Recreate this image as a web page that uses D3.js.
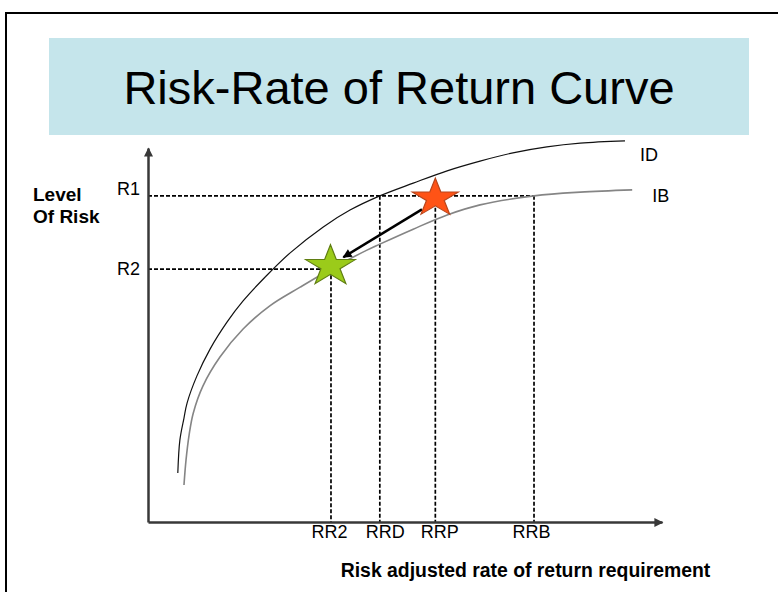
<!DOCTYPE html>
<html>
<head>
<meta charset="utf-8">
<script src="https://cdn.jsdelivr.net/npm/d3@7"></script>
<style>
    body { margin: 0; background: #ffffff; }
    text { font-family: Arial, "Liberation Sans", sans-serif; fill: #000; }
</style>
</head>
<body>
<script>
// 曲线 ID（黑色）上读取的点
const idX = [5.8, 6.2, 7.0, 7.6, 9.5, 12.1, 15.4, 18.5, 22.8, 27.6, 34.1, 39.3, 45.1, 51.6, 58.2, 64.6, 71.0, 77.6, 84.1, 92.8];
const idY = [13.1, 21.9, 27.8, 31.8, 39.0, 46.3, 53.5, 59.1, 65.5, 71.9, 78.9, 83.4, 87.2, 90.6, 93.9, 96.5, 98.7, 100.3, 101.3, 101.9];
// 曲线 IB（灰色）上读取的点
const ibX = [7.0, 7.4, 8.0, 8.8, 10.7, 14.0, 18.5, 23.7, 29.6, 35.8, 42.6, 45.1, 51.6, 58.2, 64.6, 75.1, 84.1, 94.2];
const ibY = [9.9, 16.6, 23.3, 29.1, 36.4, 44.1, 51.6, 57.8, 62.8, 67.8, 72.7, 74.3, 78.3, 82.1, 84.8, 87.2, 88.2, 88.8];
const curveNames = ['ID', 'IB'];

// 横轴参考线
const rateNames = ['RR2', 'RRD', 'RRP', 'RRB'];
const rateX = [35.6, 45.1, 55.9, 75.1];
const rateTopY = [67.6, 87.2, 87.2, 87.2];
// 纵轴参考线
const riskNames = ['R1', 'R2'];
const riskY = [87.2, 67.6];
const riskEndX = [75.1, 35.6];

// 星形标记与箭头
const starX = [55.9, 35.5];
const starY = [86.6, 68.4];
const arrowFrom = [53.3, 83.6];
const arrowTo = [38.0, 70.8];

const svgWidth = 778, svgHeight = 592;

const svg = d3.select('body').append('svg')
    .attr('width', svgWidth)
    .attr('height', svgHeight);

// 箭头标记
const defs = svg.append('defs');
[['axis-arrow', '#383838'], ['move-arrow', '#000']].forEach(([id, color]) => {
    defs.append('marker')
        .attr('id', id)
        .attr('viewBox', '0 0 10 10')
        .attr('refX', 9).attr('refY', 5)
        .attr('markerUnits', 'userSpaceOnUse')
        .attr('markerWidth', 11).attr('markerHeight', 9)
        .attr('orient', 'auto')
        .append('path').attr('d', 'M0,0L10,5L0,10z').attr('fill', color);
});

// 外框与标题栏
svg.append('rect')
    .attr('x', 6).attr('y', 13)
    .attr('width', 820).attr('height', 620)
    .attr('fill', 'none').attr('stroke', '#000').attr('stroke-width', 2);
svg.append('rect')
    .attr('x', 49).attr('y', 38)
    .attr('width', 700).attr('height', 97)
    .attr('fill', '#c5e5eb');
svg.append('text')
    .attr('x', 399).attr('y', 104)
    .attr('text-anchor', 'middle')
    .style('font-size', '47px')
    .text('Risk-Rate of Return Curve');

// 比例尺
const x = d3.scaleLinear().domain([0, 100]).range([148, 662]);
const y = d3.scaleLinear().domain([0, 100]).range([522, 148]);

// 虚线
const dash = svg.append('g')
    .attr('fill', 'none')
    .attr('stroke', '#000')
    .attr('stroke-width', 1.7)
    .attr('stroke-dasharray', '4,2');
dash.selectAll('line.v')
    .data(rateX)
    .join('line')
    .attr('class', 'v')
    .attr('x1', d => x(d)).attr('x2', d => x(d))
    .attr('y1', (d, i) => y(rateTopY[i])).attr('y2', y(0));
dash.selectAll('line.h')
    .data(riskY)
    .join('line')
    .attr('class', 'h')
    .attr('x1', x(0)).attr('x2', (d, i) => x(riskEndX[i]))
    .attr('y1', d => y(d)).attr('y2', d => y(d));

// 曲线
const line = d3.line()
    .x(d => x(d[0]))
    .y(d => y(d[1]))
    .curve(d3.curveCatmullRom.alpha(0.5));
const curves = [d3.zip(idX, idY), d3.zip(ibX, ibY)];
svg.append('g').selectAll('path')
    .data(curves)
    .join('path')
    .attr('d', line)
    .attr('fill', 'none')
    .attr('stroke', (d, i) => i === 0 ? '#111' : '#858585')
    .attr('stroke-width', (d, i) => i === 0 ? 1.2 : 1.6);
svg.append('g').selectAll('text')
    .data(curveNames)
    .join('text')
    .attr('x', (d, i) => x(curves[i][curves[i].length - 1][0]) + (i === 0 ? 15 : 20))
    .attr('y', (d, i) => y(curves[i][curves[i].length - 1][1]) + (i === 0 ? 20 : 12))
    .style('font-size', '18px')
    .text(d => d);

// 坐标轴
const labelShift = [-2, 5, 4, -3];
const xAxis = svg.append('g')
    .attr('transform', `translate(0,${y(0)})`)
    .call(d3.axisBottom(x)
        .tickValues(rateX)
        .tickFormat((d, i) => rateNames[i])
        .tickSize(0).tickSizeOuter(0).tickPadding(3));
const yAxis = svg.append('g')
    .attr('transform', `translate(${x(0)},0)`)
    .call(d3.axisLeft(y)
        .tickValues(riskY)
        .tickFormat((d, i) => riskNames[i])
        .tickSize(0).tickSizeOuter(0).tickPadding(8));
[xAxis, yAxis].forEach(ax => {
    ax.select('.domain')
        .attr('stroke', '#383838')
        .attr('stroke-width', 2.5)
        .attr('marker-end', 'url(#axis-arrow)');
    ax.selectAll('.tick text')
        .attr('fill', '#000')
        .style('font-family', 'Arial, "Liberation Sans", sans-serif')
        .style('font-size', '18px');
});
xAxis.selectAll('.tick text').attr('dx', (d, i) => labelShift[i]);
yAxis.selectAll('.tick text').attr('dy', (d, i) => i === 0 ? '-0.05em' : '0.32em');

// 轴标题
svg.append('text')
    .attr('x', 525.5).attr('y', 577)
    .attr('text-anchor', 'middle')
    .style('font-size', '19.4px').style('font-weight', 'bold')
    .text('Risk adjusted rate of return requirement');
const yTitle = svg.append('text')
    .attr('x', 33).attr('y', 201)
    .style('font-size', '19px').style('font-weight', 'bold');
yTitle.append('tspan').attr('x', 33).text('Level');
yTitle.append('tspan').attr('x', 33).attr('dy', 22).text('Of Risk');

// 箭头
svg.append('line')
    .attr('x1', x(arrowFrom[0])).attr('y1', y(arrowFrom[1]))
    .attr('x2', x(arrowTo[0])).attr('y2', y(arrowTo[1]))
    .attr('stroke', '#000').attr('stroke-width', 2.5)
    .attr('marker-end', 'url(#move-arrow)');

// 星形标记
const starFill = ['#ff5316', '#9bcb1a'];
const starStroke = ['#b8461c', '#5f7d12'];
const starR = [20, 21.5];
svg.append('g').selectAll('path')
    .data(starX)
    .join('path')
    .attr('transform', (d, i) => `translate(${x(d)},${y(starY[i])}) scale(1.22,1)`)
    .attr('d', (d, i) => d3.symbol(d3.symbolStar, starR[i] * starR[i] / 0.8908130915292852)())
    .attr('fill', (d, i) => starFill[i])
    .attr('stroke', (d, i) => starStroke[i])
    .attr('stroke-width', 1);
</script>
</body>
</html>
